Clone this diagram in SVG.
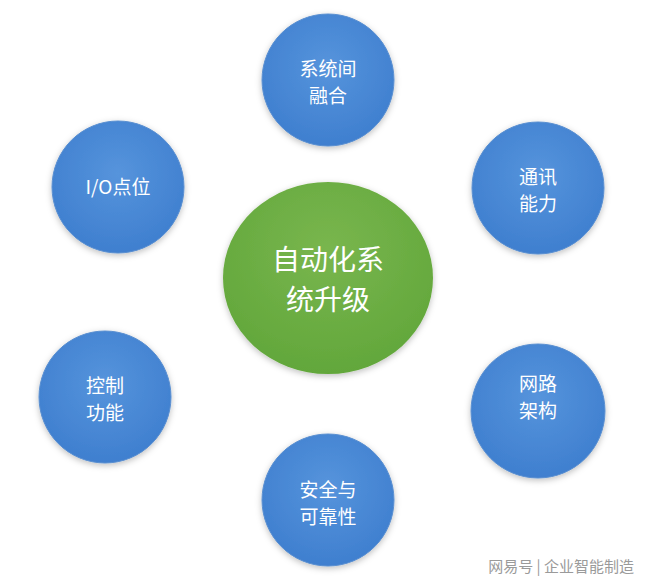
<svg xmlns="http://www.w3.org/2000/svg" width="650" height="585" viewBox="0 0 650 585">
<style>
.b{fill:url(#bg);stroke:#5a8fd0;stroke-width:1}
.t{font-family:"Noto Sans CJK SC","Liberation Sans",sans-serif;fill:#fff;text-anchor:middle;font-size:19px}
.c{font-size:28px}
</style>
<defs>
<radialGradient id="bg" cx="50%" cy="40%" r="60%"><stop offset="0" stop-color="#5694dc"/><stop offset="1" stop-color="#3f7fcf"/></radialGradient>
<radialGradient id="gg" cx="50%" cy="35%" r="65%"><stop offset="0" stop-color="#79b64e"/><stop offset="1" stop-color="#62a73b"/></radialGradient>
<filter id="sh" x="-20%" y="-20%" width="140%" height="140%"><feDropShadow dx="0" dy="2" stdDeviation="3" flood-color="#000" flood-opacity="0.25"/></filter>
</defs>
<rect width="650" height="585" fill="#fff"/>
<g id="center"><ellipse cx="328" cy="278" rx="105" ry="96" fill="url(#gg)" filter="url(#sh)"/>
<text class="t c" x="328" y="270">自动化系</text><text class="t c" x="328" y="310">统升级</text></g>
<g id="n1"><circle class="b" cx="328" cy="80" r="66" filter="url(#sh)"/><text class="t" x="328" y="76">系统间</text><text class="t" x="328" y="103">融合</text></g>
<g id="n2"><circle class="b" cx="118" cy="187" r="66" filter="url(#sh)"/><text class="t" x="118" y="194">I/O点位</text></g>
<g id="n3"><circle class="b" cx="538" cy="188" r="66" filter="url(#sh)"/><text class="t" x="538" y="184">通讯</text><text class="t" x="538" y="211">能力</text></g>
<g id="n4"><circle class="b" cx="105" cy="397" r="66" filter="url(#sh)"/><text class="t" x="105" y="393">控制</text><text class="t" x="105" y="420">功能</text></g>
<g id="n5"><circle class="b" cx="538" cy="411" r="67" filter="url(#sh)"/><text class="t" x="538" y="391">网路</text><text class="t" x="538" y="418">架构</text></g>
<g id="n6"><circle class="b" cx="328" cy="500" r="66" filter="url(#sh)"/><text class="t" x="328" y="497">安全与</text><text class="t" x="328" y="524">可靠性</text></g>
<g id="connectors"/>
<text x="634" y="572" text-anchor="end" font-family="Noto Sans CJK SC,sans-serif" font-size="15" fill="#9a9a9a">网易号 | 企业智能制造</text>
</svg>
